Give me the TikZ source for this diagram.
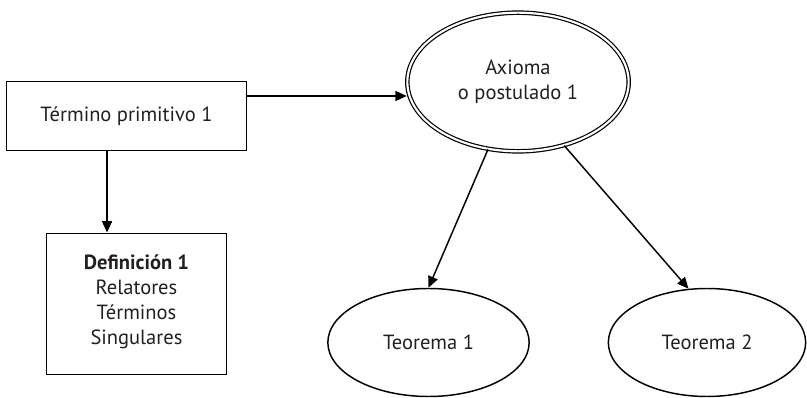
\documentclass[tikz,border=0pt]{standalone}
\usepackage{fontspec}
\setmainfont{PT Sans}
\usepackage{xcolor}
\usepackage{tikz}
\usetikzlibrary{calc,shapes.geometric,arrows.meta}
\definecolor{ink}{HTML}{231F20}
\tikzset{
  txt/.style={text=ink, font=\fontsize{15.4}{18.7}\selectfont, align=center},
  boxnode/.style={txt, draw=black, line width=1.2pt, rectangle, inner sep=0pt},
  ovalnode/.style={txt, draw=black, line width=1.1pt, ellipse, inner sep=0pt},
  axnode/.style={ovalnode, double, line width=0.9pt, double distance=1.6pt},
  arr/.style={draw=black, line width=1.1pt, -{Triangle[length=8.5pt,width=7.5pt]}},
}

\begin{document}
\begin{tikzpicture}[x=0.75pt,y=-0.75pt]
  \useasboundingbox (0,0) rectangle (807,398);
  \node[boxnode, minimum width=180pt, minimum height=52pt] (prim) at (126.5,116) {Término primitivo 1};
  \node[boxnode, minimum width=135pt, minimum height=106pt] (def) at (136.5,304)
    {\textbf{Definición 1}\\Relatores\\Términos\\Singulares\\[-12.5pt]};
  \node[axnode, minimum width=166pt, minimum height=104pt] (ax) at (518,82) {Axioma\\o postulado 1};
  \node[ovalnode, minimum width=151pt, minimum height=81pt] (t1) at (428.5,342.5) {Teorema 1};
  \node[ovalnode, minimum width=148pt, minimum height=81pt] (t2) at (707,342.5) {Teorema 2};
  \draw[arr] ([yshift=15pt]prim.east) -- ([yshift=15pt]prim.east -| ax.west);
  \draw[arr] ([xshift=-14.6pt]prim.south) -- ([xshift=-14.6pt]prim.south |- def.north);
  \draw[arr] (ax.246) -- (t1.north);
  \draw[arr] (ax.306) -- (t2.109);
\end{tikzpicture}
\end{document}
